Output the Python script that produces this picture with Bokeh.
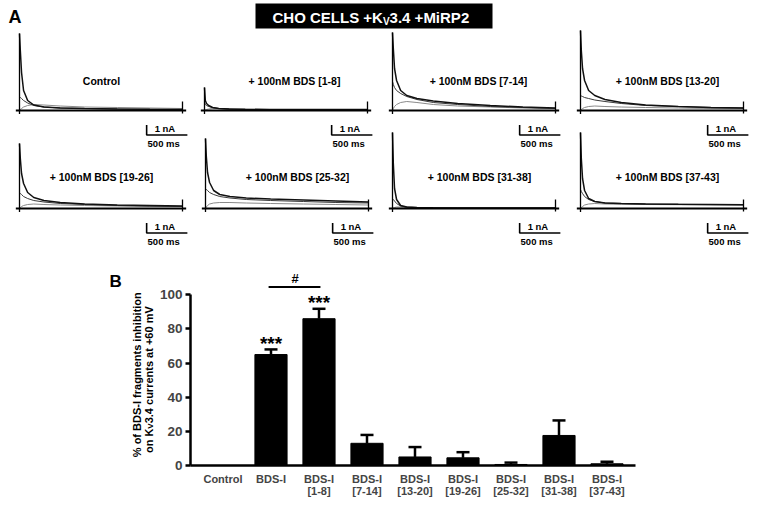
import math
from bokeh.plotting import figure
from bokeh.models import Range1d, FixedTicker, ColumnDataSource, Whisker, TeeHead
from bokeh.embed import file_html
from bokeh.resources import INLINE
from bokeh.core.properties import value

FONT = "Liberation Sans"

# ---------------- Panel B data ----------------
categories = ["Control", "BDS-I", "BDS-I\n[1-8]", "BDS-I\n[7-14]", "BDS-I\n[13-20]",
              "BDS-I\n[19-26]", "BDS-I\n[25-32]", "BDS-I\n[31-38]", "BDS-I\n[37-43]"]
inhibition = [0, 65, 86, 13, 5, 4.5, 0.6, 17.6, 1.0]
sem = [0, 3.0, 5.8, 4.9, 5.8, 3.3, 1.1, 8.8, 1.2]
significance = ["", "***", "***", "", "", "", "", "", ""]
y_ticks = [0, 20, 40, 60, 80, 100]

# ---------------- Panel A data ----------------
panel_titles = ["Control", "+ 100nM BDS [1-8]", "+ 100nM BDS [7-14]", "+ 100nM BDS [13-20]",
                "+ 100nM BDS [19-26]", "+ 100nM BDS [25-32]", "+ 100nM BDS [31-38]", "+ 100nM BDS [37-43]"]
sweep_ms = [0, 10, 25, 50, 100, 175, 300, 500, 800, 1200, 1600, 2000]
peak_nA = [7.7, 2.3, 7.8, 8.0, 6.5, 7.0, 7.6, 7.6]
trace_large = [
    [7.7, 6.0, 3.8, 2.0, 1.0, 0.55, 0.35, 0.25, 0.2, 0.15, 0.12, 0.1],
    [2.3, 1.0, 0.7, 0.5, 0.3, 0.2, 0.15, 0.12, 0.1, 0.1, 0.1, 0.1],
    [7.8, 6.2, 4.2, 3.0, 2.0, 1.5, 1.2, 0.95, 0.7, 0.5, 0.35, 0.25],
    [8.0, 6.0, 4.2, 3.0, 2.0, 1.5, 1.1, 0.8, 0.55, 0.4, 0.3, 0.25],
    [6.5, 5.0, 3.5, 2.5, 1.6, 1.1, 0.8, 0.6, 0.45, 0.35, 0.3, 0.25],
    [7.0, 5.2, 3.6, 2.6, 1.8, 1.4, 1.2, 1.05, 0.95, 0.85, 0.75, 0.65],
    [7.6, 4.5, 2.0, 0.9, 0.3, 0.15, 0.1, 0.08, 0.06, 0.05, 0.05, 0.05],
    [7.6, 5.0, 3.0, 1.8, 1.0, 0.7, 0.55, 0.5, 0.45, 0.42, 0.4, 0.38],
]
trace_mid = [
    [1.4, 1.3, 1.2, 1.0, 0.75, 0.5, 0.35, 0.25, 0.2, 0.15, 0.12, 0.1],
    [0.8, 0.6, 0.5, 0.4, 0.3, 0.2, 0.15, 0.1, 0.1, 0.08, 0.08, 0.08],
    [2.9, 2.6, 2.3, 2.0, 1.7, 1.4, 1.1, 0.8, 0.6, 0.4, 0.3, 0.2],
    [1.5, 1.45, 1.4, 1.3, 1.2, 1.05, 0.9, 0.7, 0.5, 0.4, 0.3, 0.25],
    [1.6, 1.5, 1.4, 1.2, 1.0, 0.8, 0.65, 0.5, 0.4, 0.3, 0.25, 0.2],
    [2.0, 1.9, 1.8, 1.6, 1.4, 1.2, 1.05, 0.9, 0.8, 0.7, 0.6, 0.55],
    [1.0, 0.9, 0.75, 0.5, 0.25, 0.15, 0.1, 0.08, 0.06, 0.05, 0.05, 0.05],
    [1.9, 1.7, 1.5, 1.2, 0.9, 0.7, 0.55, 0.5, 0.45, 0.42, 0.4, 0.38],
]
trace_small = [
    [0.0, 0.1, 0.2, 0.35, 0.5, 0.6, 0.55, 0.45, 0.35, 0.3, 0.25, 0.2],
    [0.0, 0.05, 0.1, 0.15, 0.2, 0.2, 0.15, 0.12, 0.1, 0.1, 0.08, 0.08],
    [0.0, 0.2, 0.4, 0.6, 0.8, 0.9, 0.8, 0.6, 0.45, 0.35, 0.25, 0.2],
    [0.0, 0.1, 0.2, 0.3, 0.4, 0.45, 0.4, 0.35, 0.3, 0.25, 0.2, 0.2],
    [0.0, 0.1, 0.2, 0.3, 0.4, 0.45, 0.4, 0.35, 0.3, 0.25, 0.2, 0.2],
    [0.0, 0.15, 0.3, 0.45, 0.55, 0.6, 0.6, 0.55, 0.5, 0.45, 0.4, 0.35],
    [0.0, 0.05, 0.1, 0.15, 0.15, 0.1, 0.08, 0.06, 0.05, 0.05, 0.05, 0.05],
    [0.0, 0.1, 0.2, 0.35, 0.45, 0.5, 0.45, 0.42, 0.4, 0.38, 0.36, 0.35],
]
scale_ms = 500
scale_nA = 1

# ---------------- Layout constants (pixels) ----------------
W = 757
H = 506
PX_PER_MS = 0.0815
PX_PER_NA = 10.0
panel_left = [19, 204, 392, 580, 19, 205, 392, 580]
panel_base = [110, 110, 110, 110, 208, 208, 208, 208]
label_cx = [101, 294, 478, 667, 101, 297, 479, 667]

# Panel B placement: y axis at x=190, 48 px per category; y=0 at 465, 1.707 px per %
B_LEFT, B_PX_X = 190, 48.0
B_ZERO, B_PX_Y = 465, 1.707
X_AX0, X_AX1 = -0.677, 8.594
x_start = X_AX0 - B_LEFT / B_PX_X
x_end = X_AX0 + (W - B_LEFT) / B_PX_X
y_start = -(H - B_ZERO) / B_PX_Y
y_end = B_ZERO / B_PX_Y

p = figure(width=W, height=H, x_range=Range1d(x_start, x_end), y_range=Range1d(y_start, y_end),
           output_backend="svg", toolbar_location=None, min_border=0, outline_line_color=None)
p.grid.visible = False
p.background_fill_color = "white"
p.border_fill_color = "white"

# pixel-space ranges for page furniture
p.extra_x_ranges["px"] = Range1d(0, W)
p.extra_y_ranges["py"] = Range1d(H, 0)
PX = dict(x_range_name="px", y_range_name="py")

# ================= Panel A =================
p.quad(left=[255], right=[492], top=[3], bottom=[28], fill_color="black", line_color=None, **PX)
p.text(x=[272], y=[16.5], text=["CHO CELLS +K"], text_font=value(FONT), text_font_style="bold",
       text_font_size="15px", text_color="white", text_align="left", text_baseline="middle", **PX)
p.text(x=[382.4], y=[20.5], text=["V"], text_font=value(FONT), text_font_style="bold",
       text_font_size="10px", text_color="white", text_align="left", text_baseline="middle", **PX)
p.text(x=[389.1], y=[16.5], text=["3.4 +MiRP2"], text_font=value(FONT), text_font_style="bold",
       text_font_size="15px", text_color="white", text_align="left", text_baseline="middle", **PX)
p.text(x=[8], y=[16.5], text=["A"], text_font=value(FONT), text_font_style="bold",
       text_font_size="18px", text_color="black", text_align="left", text_baseline="middle", **PX)

for i in range(8):
    x0 = panel_left[i]
    y0 = panel_base[i]
    xn, yn = f"t{i}", f"i{i}"
    p.extra_x_ranges[xn] = Range1d(-x0 / PX_PER_MS, (W - x0) / PX_PER_MS)
    p.extra_y_ranges[yn] = Range1d((y0 - H) / PX_PER_NA, y0 / PX_PER_NA)
    kw = dict(x_range_name=xn, y_range_name=yn)
    t_end = sweep_ms[-1]
    p.line(sweep_ms, trace_small[i], line_color="#8a8a8a", line_width=1.0, **kw)
    p.line(sweep_ms, trace_mid[i], line_color="#3a3a3a", line_width=1.0, **kw)
    p.line(sweep_ms, trace_large[i], line_color="#111111", line_width=1.5, **kw)
    p.segment(x0=[-45], y0=[0], x1=[t_end + 45], y1=[0], line_color="black", line_width=2.2, **kw)
    p.segment(x0=[0], y0=[-0.35], x1=[0], y1=[peak_nA[i]], line_color="black", line_width=1.3, **kw)
    p.segment(x0=[t_end], y0=[-0.3], x1=[t_end], y1=[0.9], line_color="black", line_width=1.3, **kw)
    tc, vc = 1560, -2.45
    p.line([tc, tc, tc + scale_ms], [vc + scale_nA, vc, vc], line_color="black", line_width=1.6, **kw)
    p.text(x=[tc + 98], y=[vc + 0.65], text=[f"{scale_nA} nA"], text_font=value(FONT),
           text_font_style="bold", text_font_size="9.5px", text_align="left", text_baseline="middle", **kw)
    p.text(x=[tc + 209], y=[vc - 0.85], text=[f"{scale_ms} ms"], text_font=value(FONT),
           text_font_style="bold", text_font_size="9.5px", text_align="center", text_baseline="middle", **kw)

p.text(x=label_cx, y=[80] * 4 + [176] * 4, text=panel_titles, text_font=value(FONT),
       text_font_style="bold", text_font_size="10.5px", text_align="center", text_baseline="middle", **PX)

# ================= Panel B =================
xs = list(range(len(categories)))
p.vbar(x=xs, top=inhibition, width=0.67, fill_color="black", line_color="black")

err_src = ColumnDataSource(dict(
    x=[x for x, s in zip(xs, sem) if s > 0],
    lower=[m for m, s in zip(inhibition, sem) if s > 0],
    upper=[m + s for m, s in zip(inhibition, sem) if s > 0],
))
p.add_layout(Whisker(source=err_src, base="x", lower="lower", upper="upper",
                     line_width=2.5, line_color="black",
                     upper_head=TeeHead(size=13, line_width=2.5, line_color="black"),
                     lower_head=None))

star_src = ColumnDataSource(dict(
    x=[x for x, s in zip(xs, significance) if s],
    y=[m + e for m, e, s in zip(inhibition, sem, significance) if s],
    t=[s for s in significance if s],
))
p.text(x="x", y="y", text="t", source=star_src, text_font=value(FONT), text_font_style="bold",
       text_font_size="19px", text_align="center", text_baseline="alphabetic", y_offset=-6)

p.segment(x0=[0.95], y0=[104.5], x1=[2.03], y1=[104.5], line_color="black", line_width=2)
p.text(x=[1.5], y=[109.5], text=["#"], text_font=value(FONT), text_font_style="bold",
       text_font_size="13px", text_align="center", text_baseline="middle")

# axes anchored inside the frame
yax = p.yaxis[0]
yax.fixed_location = X_AX0
yax.ticker = FixedTicker(ticks=y_ticks)
yax.bounds = (0, 100)
yax.minor_tick_line_color = None
yax.major_tick_in = 0
yax.major_tick_out = 5
yax.axis_line_width = 2.5
yax.major_tick_line_width = 2.5
yax.major_label_text_font = FONT
yax.major_label_text_font_style = "bold"
yax.major_label_text_font_size = "13.5px"
yax.major_label_standoff = 3

xax = p.xaxis[0]
xax.fixed_location = 0
xax.ticker = FixedTicker(ticks=xs)
xax.bounds = (X_AX0, X_AX1)
xax.major_label_overrides = {i: c for i, c in enumerate(categories)}
xax.major_tick_line_color = None
xax.minor_tick_line_color = None
xax.axis_line_width = 2.5
xax.major_label_text_font = FONT
xax.major_label_text_font_style = "bold"
xax.major_label_text_font_size = "11px"
xax.major_label_text_line_height = 1.0
xax.major_label_standoff = 1

# y axis title (two rotated lines; subscript V) and panel letter
t_kw = dict(text_font=value(FONT), text_font_style="bold", angle=math.pi / 2)
p.text(x=[-1.802], y=[53.2], text=["% of BDS-I fragments inhibition"], text_font_size="11px",
       text_align="center", text_baseline="middle", **t_kw)
p.text(x=[-1.552], y=[7.3], text=["on K"], text_font_size="11px",
       text_align="left", text_baseline="middle", **t_kw)
p.text(x=[-1.50], y=[21.6], text=["V"], text_font_size="8px",
       text_align="left", text_baseline="middle", **t_kw)
p.text(x=[-1.552], y=[24.7], text=["3.4 currents at +60 mV"], text_font_size="11px",
       text_align="left", text_baseline="middle", **t_kw)
p.text(x=[-2.365], y=[107.5], text=["B"], text_font=value(FONT), text_font_style="bold",
       text_font_size="17px", text_align="left", text_baseline="middle")

open("out.html", "w").write(file_html(p, INLINE))
